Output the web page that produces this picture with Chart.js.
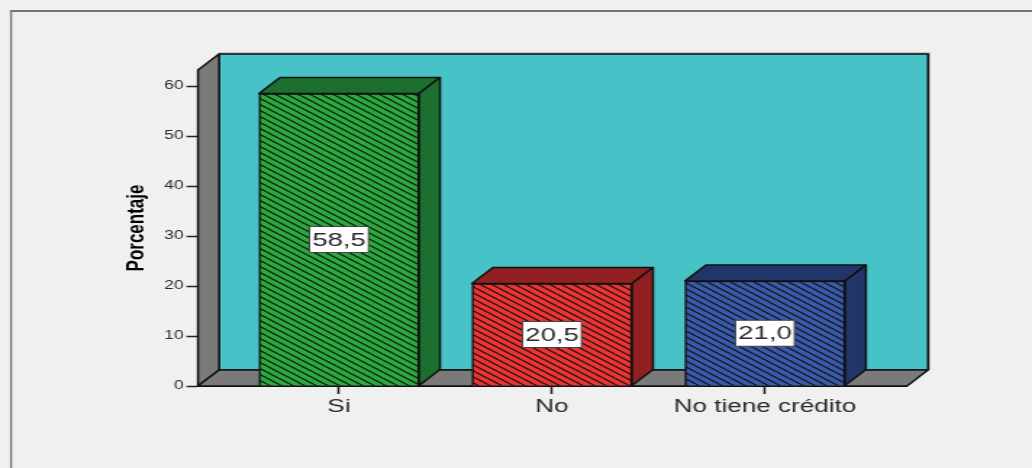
<!DOCTYPE html>
<html>
<head>
<meta charset="utf-8">
<title>Porcentaje</title>
<script src="https://cdn.jsdelivr.net/npm/chart.js@4"></script>
<style>
  html, body { margin: 0; padding: 0; background: #f0f0f0; overflow: hidden; }
  /* the original picture is stretched sideways, so the canvas is too */
  #chart { display: block; width: 1032px !important; height: 468px !important; }
</style>
</head>
<body>
<canvas id="chart" width="712" height="468"></canvas>
<script>
const categories = ['Si', 'No', 'No tiene crédito'];
const percentages = [58.5, 20.5, 21.0];
const yTicks = [0, 10, 20, 30, 40, 50, 60];
const yTitle = 'Porcentaje';

const stretch = 1032 / 712;
const depthX = 21 / stretch;
const depthY = 16;

const frontColors = ['#2ca83f', '#f03236', '#3d58ac'];
const sideColors = ['#1c6f2e', '#922022', '#223568'];

// diagonal hatch for the bar fronts
function hatch(color) {
  const tile = document.createElement('canvas');
  tile.width = 8;
  tile.height = 6;
  const c = tile.getContext('2d');
  c.fillStyle = color;
  c.fillRect(0, 0, 8, 6);
  c.strokeStyle = '#0c1a10';
  c.lineWidth = 1.2;
  for (let i = -1; i <= 1; i++) {
    c.beginPath();
    c.moveTo(0, i * 6);
    c.lineTo(8, i * 6 + 6);
    c.stroke();
  }
  return c.createPattern(tile, 'repeat');
}

function poly(ctx, pts, fill) {
  ctx.beginPath();
  pts.forEach((p, i) => i ? ctx.lineTo(p[0], p[1]) : ctx.moveTo(p[0], p[1]));
  ctx.closePath();
  ctx.fillStyle = fill;
  ctx.fill();
  ctx.stroke();
}

const box3d = {
  id: 'box3d',
  beforeDraw(chart) {
    // frame of the picture: only top and left are visible
    const ctx = chart.ctx;
    ctx.save();
    ctx.fillStyle = '#f0f0f0';
    ctx.fillRect(0, 0, chart.width, chart.height);
    ctx.fillStyle = '#767676';
    ctx.fillRect(10 / stretch, 10, chart.width, 2);
    ctx.fillRect(10 / stretch, 10, 2 / stretch, chart.height);
    ctx.restore();
  },
  beforeDatasetsDraw(chart) {
    const { ctx, chartArea: a } = chart;
    const dx = depthX, dy = depthY;
    ctx.save();
    ctx.lineJoin = 'round';
    ctx.strokeStyle = '#111';
    ctx.lineWidth = 1.5;
    // soft grey edge behind the back wall
    ctx.fillStyle = '#a0a0a0';
    ctx.fillRect(a.left + dx, a.top - dy - 1.5, a.width + 1.5, a.height + 1.5);
    poly(ctx, [[a.left + dx, a.top - dy], [a.right + dx, a.top - dy], [a.right + dx, a.bottom - dy], [a.left + dx, a.bottom - dy]], '#47c2c6');
    poly(ctx, [[a.left, a.top], [a.left + dx, a.top - dy], [a.left + dx, a.bottom - dy], [a.left, a.bottom]], '#7a7a7a');
    poly(ctx, [[a.left, a.bottom], [a.left + dx, a.bottom - dy], [a.right + dx, a.bottom - dy], [a.right, a.bottom]], '#7a7a7a');
    ctx.restore();
  },
  afterDatasetsDraw(chart) {
    const ctx = chart.ctx;
    const dx = depthX, dy = depthY;
    ctx.save();
    ctx.lineJoin = 'round';
    chart.getDatasetMeta(0).data.forEach((bar, i) => {
      const l = bar.x - bar.width / 2, r = bar.x + bar.width / 2;
      const t = bar.y, b = bar.base;
      ctx.strokeStyle = '#111';
      ctx.lineWidth = 1.5;
      poly(ctx, [[l, t], [l + dx, t - dy], [r + dx, t - dy], [r, t]], sideColors[i]);
      poly(ctx, [[r, t], [r + dx, t - dy], [r + dx, b - dy], [r, b]], sideColors[i]);

      // value label in the middle of the bar
      const text = percentages[i].toFixed(1).replace('.', ',');
      const w = 59 / stretch, h = 26;
      const my = (t + b) / 2;
      ctx.fillStyle = '#fff';
      ctx.strokeStyle = '#444';
      ctx.lineWidth = 1;
      ctx.fillRect(bar.x - w / 2, my - h / 2, w, h);
      ctx.strokeRect(bar.x - w / 2, my - h / 2, w, h);
      ctx.fillStyle = '#2a2a2a';
      ctx.font = '19px "Liberation Sans"';
      ctx.textAlign = 'center';
      ctx.textBaseline = 'middle';
      ctx.fillText(text, bar.x, my + 1);
    });
    ctx.restore();
  }
};

new Chart(document.getElementById('chart'), {
  type: 'bar',
  data: {
    datasets: [{
      data: percentages.map((v, i) => ({ x: i, y: v })),
      backgroundColor: frontColors.map(hatch),
      borderColor: '#111',
      borderWidth: 1.5,
      barThickness: 160 / stretch
    }]
  },
  options: {
    responsive: false,
    animation: false,
    layout: { padding: { top: 70, right: 125 / stretch } },
    plugins: { legend: { display: false }, tooltip: { enabled: false } },
    scales: {
      x: {
        type: 'linear',
        offset: false,
        min: -0.662,
        max: 2.667,
        afterFit(scale) { scale.height = 82; },
        afterBuildTicks(scale) { scale.ticks = categories.map((c, i) => ({ value: i })); },
        grid: { offset: false, drawOnChartArea: false, tickLength: 8, tickColor: '#222', tickWidth: 1.5 },
        border: { color: '#111', width: 2 },
        ticks: {
          autoSkip: false,
          maxRotation: 0,
          padding: 2,
          color: '#2a2a2a',
          font: { family: '"Liberation Sans"', size: 18 },
          callback: (v) => categories[v]
        }
      },
      y: {
        min: 0,
        max: 63.2,
        afterFit(scale) { scale.width = 198 / stretch; },
        afterBuildTicks(scale) { scale.ticks = yTicks.map(v => ({ value: v })); },
        grid: { drawOnChartArea: false, tickLength: 8, tickColor: '#222', tickWidth: 1.5 },
        border: { color: '#111', width: 1.5 },
        ticks: {
          padding: 2,
          color: '#2a2a2a',
          font: { family: '"Liberation Sans"', size: 12 }
        },
        title: {
          display: true,
          text: yTitle,
          color: '#000',
          padding: { top: 84, bottom: 0 },
          font: { family: '"Liberation Sans"', size: 17, weight: 'bold' }
        }
      }
    }
  },
  plugins: [box3d]
});
</script>
</body>
</html>
